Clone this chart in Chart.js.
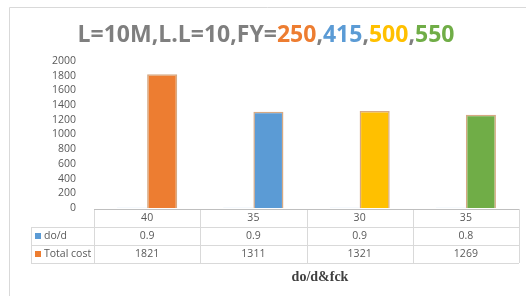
<!DOCTYPE html>
<html>
<head>
<meta charset="utf-8">
<script src="https://cdn.jsdelivr.net/npm/chart.js@4/dist/chart.umd.min.js"></script>
<style>
    html, body { margin: 0; padding: 0; background: #fff; }
    #wrap { width: 526px; height: 296px; position: relative; }
</style>
</head>
<body>
<div id="wrap"><canvas id="chart" width="526" height="296"></canvas></div>
<script>
const categories = ["40", "35", "30", "35"];
const doD = [0.9, 0.9, 0.9, 0.8];
const totalCost = [1821, 1311, 1321, 1269];
const barColors = ["#ED7D31", "#5B9BD5", "#FFC000", "#70AD47"];
const titleParts = [
    {text: "L=10M,L.L=10,FY=", color: "#7F7F7F"},
    {text: "250", color: "#ED7D31"},
    {text: ",", color: "#7F7F7F"},
    {text: "415", color: "#5B9BD5"},
    {text: ",", color: "#7F7F7F"},
    {text: "500", color: "#FFC000"},
    {text: ",", color: "#7F7F7F"},
    {text: "550", color: "#70AD47"}
];
const axisTitle = "do/d&fck";

const textFont = '10.5px "Open Sans"';
const textColor = "#595959";
const lineColor = "#D9D9D9";

// frame, multi-coloured title, data table and axis title
const decorations = {
    id: "decorations",
    afterDraw(chart) {
        const c = chart.ctx;
        const x = chart.scales.x;
        const area = chart.chartArea;
        c.save();

        // frame (top + left only, the picture is cropped)
        c.strokeStyle = "#D9D9D9";
        c.lineWidth = 1;
        c.beginPath();
        c.moveTo(9.5, 296);
        c.lineTo(9.5, 7.5);
        c.lineTo(526, 7.5);
        c.stroke();

        // title
        c.font = 'bold 23px "Open Sans"';
        c.textBaseline = "middle";
        c.textAlign = "left";
        let total = 0;
        titleParts.forEach(p => total += c.measureText(p.text).width);
        let tx = 266 - total / 2;
        titleParts.forEach(p => {
            c.fillStyle = p.color;
            c.fillText(p.text, tx, 35);
            tx += c.measureText(p.text).width;
        });

        // data table
        const n = categories.length;
        const cellW = (area.right - area.left) / n;
        const rowH = 18;
        const top = area.bottom + 1;
        const legendLeft = 31;

        c.strokeStyle = lineColor;
        c.beginPath();
        for (let r = 1; r <= 3; r++) {
            const y = Math.round(top + r * rowH) + 0.5;
            c.moveTo(legendLeft, y);
            c.lineTo(area.right, y);
        }
        for (let i = 0; i <= n; i++) {
            const vx = Math.round(area.left + i * cellW) + 0.5;
            c.moveTo(vx, top);
            c.lineTo(vx, top + 3 * rowH);
        }
        c.moveTo(legendLeft + 0.5, top + rowH);
        c.lineTo(legendLeft + 0.5, top + 3 * rowH);
        c.stroke();

        // axis line
        c.strokeStyle = "#BFBFBF";
        c.beginPath();
        c.moveTo(area.left, Math.round(top) + 0.5);
        c.lineTo(area.right, Math.round(top) + 0.5);
        c.stroke();

        c.font = textFont;
        c.fillStyle = textColor;
        c.textAlign = "center";
        const rows = [categories, doD, totalCost];
        rows.forEach((row, r) => {
            const cy = top + r * rowH + rowH / 2;
            row.forEach((v, i) => {
                c.fillText(String(v), x.getPixelForValue(i), cy);
            });
        });

        // legend keys in the table
        c.textAlign = "left";
        chart.data.datasets.forEach((ds, r) => {
            const cy = top + (r + 1) * rowH + rowH / 2;
            c.fillStyle = ds.keyColor;
            c.fillRect(legendLeft + 4, cy - 3, 6, 6);
            c.fillStyle = textColor;
            c.fillText(ds.label, legendLeft + 13, cy);
        });

        // axis title
        c.font = 'bold 14px "Liberation Serif"';
        c.fillStyle = "#404040";
        c.textAlign = "center";
        c.fillText(axisTitle, 320, 277);

        c.restore();
    }
};

const config = {
    type: "bar",
    data: {
        labels: categories,
        datasets: [{
            label: "do/d",
            data: doD,
            backgroundColor: "#5B9BD5",
            keyColor: "#5B9BD5"
        }, {
            label: "Total cost",
            data: totalCost,
            backgroundColor: barColors,
            borderColor: "rgba(200, 140, 90, 0.75)",
            borderWidth: 1.5,
            keyColor: "#ED7D31"
        }]
    },
    options: {
        responsive: false,
        animation: false,
        datasets: {
            bar: {
                categoryPercentage: 0.566,
                barPercentage: 1
            }
        },
        layout: {
            padding: {
                left: 9,
                right: 7,
                top: 61,
                bottom: 88
            }
        },
        plugins: {
            legend: { display: false },
            title: { display: false },
            tooltip: { enabled: false }
        },
        scales: {
            x: {
                display: false
            },
            y: {
                min: 0,
                max: 2000,
                afterFit(scale) {
                    scale.width = 85;
                },
                grid: { display: false },
                border: { display: false },
                ticks: {
                    stepSize: 200,
                    autoSkip: false,
                    padding: 10,
                    color: textColor,
                    font: {
                        family: "Open Sans",
                        size: 10.5
                    },
                    callback: function (value) {
                        return String(value);
                    }
                }
            }
        }
    },
    plugins: [decorations]
};

new Chart(document.getElementById("chart"), config);
</script>
</body>
</html>
